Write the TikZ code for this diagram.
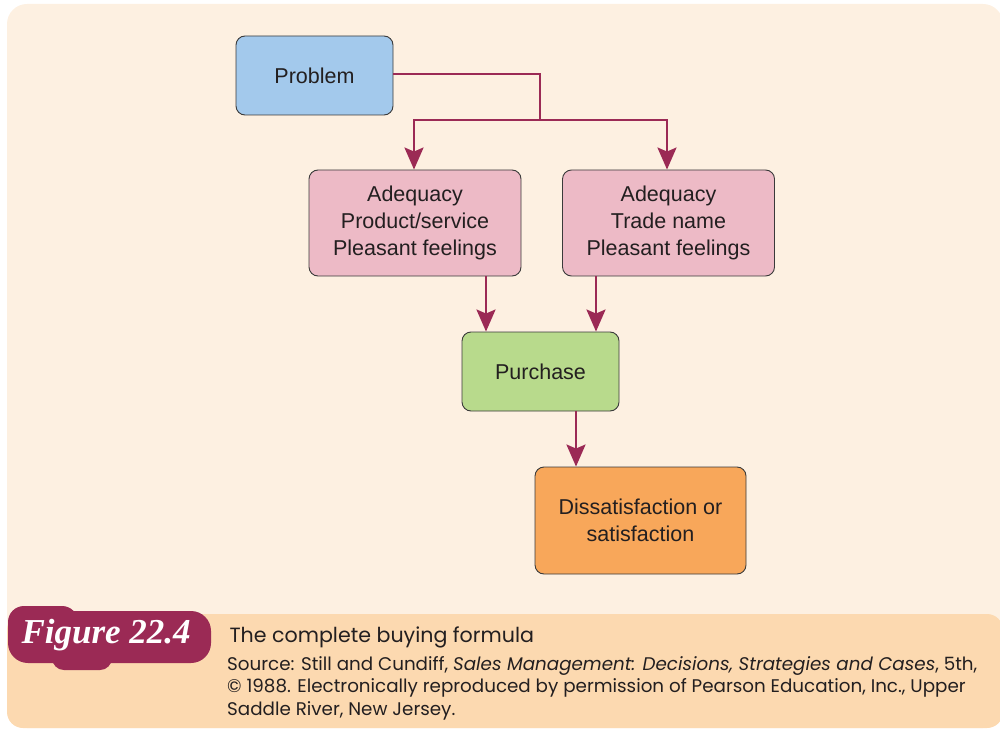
\documentclass[tikz,border=0pt]{standalone}
\usepackage{fontspec}
\setmainfont{Liberation Sans}
\newfontfamily\capfont{Poppins}
\newfontfamily\badgefont{Liberation Serif}
\usetikzlibrary{arrows.meta}
\definecolor{cream}{HTML}{FDF0E1}
\definecolor{peach}{HTML}{FCD9B0}
\definecolor{maroon}{HTML}{9B2A55}
\definecolor{blueish}{HTML}{A3C9EC}
\definecolor{pinkish}{HTML}{EDBAC6}
\definecolor{greenish}{HTML}{B8DA8C}
\definecolor{orangeish}{HTML}{F8A75A}
\definecolor{edge}{HTML}{3A3A3A}
\definecolor{txt}{HTML}{231F20}
\tikzset{
  box/.style={draw=edge, line width=0.9pt, rounded corners=9pt, align=center,
    inner sep=0pt, font=\fontsize{21.5}{27}\selectfont, text=txt},
  flow/.style={draw=maroon, line width=2.6pt,
    -{Stealth[length=22pt,width=19pt,inset=4pt]}},
  link/.style={draw=maroon, line width=2.6pt}
}
\begin{document}
\begin{tikzpicture}[x=1pt,y=-1pt]
\useasboundingbox (0,0) rectangle (1000,730);
% page panels
\fill[cream, rounded corners=20pt] (7,4) rectangle (1003,728);
\fill[peach, rounded corners=16pt] (7,614) rectangle (1003,728);
\fill[cream] (7,600) rectangle (40,614);
% figure badge
\fill[maroon, rounded corners=20pt] (8,611) rectangle (211,663);
\fill[maroon, rounded corners=16pt] (8,606) rectangle (78,645);
\fill[maroon, rounded corners=12pt] (52,640) rectangle (112,670);
\node[text=white, anchor=west, font=\badgefont\fontsize{35}{35}\selectfont\bfseries\itshape]
  (badge) at (18,635) {Figure 22.4};
% caption
\node[anchor=west, text=txt, font=\capfont\fontsize{20.6}{22}\selectfont] (title) at (226,637)
  {The complete buying formula};
\node[anchor=north west, text=txt, align=left, inner sep=0pt,
  font=\capfont\fontsize{18.3}{22.7}\selectfont] (source) at (227,656)
  {Source: Still and Cundiff, \textit{Sales Management: Decisions, Strategies and Cases}, 5th,\\
   \textcopyright{} 1988. Electronically reproduced by permission of Pearson Education, Inc., Upper\\
   Saddle River, New Jersey.};
% boxes
\node[box, fill=blueish, minimum width=157pt, minimum height=79pt] (problem) at (314.5,75.5) {Problem};
\node[box, fill=pinkish, minimum width=212pt, minimum height=106pt] (adqL) at (415,223)
  {Adequacy\\Product/service\\Pleasant feelings};
\node[box, fill=pinkish, minimum width=212pt, minimum height=106pt] (adqR) at (668.5,223)
  {Adequacy\\Trade name\\Pleasant feelings};
\node[box, fill=greenish, minimum width=157pt, minimum height=79pt] (purchase) at (540.5,371.5) {Purchase};
\node[box, fill=orangeish, minimum width=211pt, minimum height=107pt] (result) at (640.5,520.5)
  {Dissatisfaction or\\satisfaction};
% connectors
\coordinate (split) at (540,120);
\draw[link] (problem.east |- 0,74) -- (split |- 0,74) -- (split);
\draw[flow] (split) -| (adqL.north -| 414,0);
\draw[flow] (split) -| (adqR.north -| 667,0);
\draw[flow] (adqL.south -| 486,0) -- (purchase.north -| 486,0);
\draw[flow] (adqR.south -| 596,0) -- (purchase.north -| 596,0);
\draw[flow] (purchase.south -| 576,0) -- (result.north -| 576,0);
\end{tikzpicture}
\end{document}
